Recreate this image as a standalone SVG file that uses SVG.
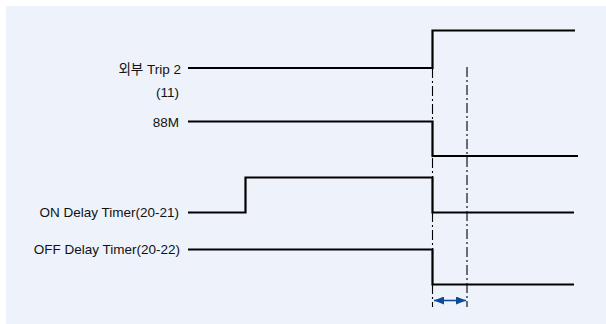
<svg xmlns="http://www.w3.org/2000/svg" width="606" height="324" viewBox="0 0 606 324">
<defs>
<style>
.lbl{font-family:"Liberation Sans","Noto Sans CJK KR",Arial,sans-serif;font-size:13.5px;fill:#111;text-anchor:end}
.sig{fill:none;stroke:#000;stroke-width:2.2;stroke-linejoin:miter;stroke-linecap:butt}
.dd{fill:none;stroke:#000;stroke-width:1.1;stroke-dasharray:10 3 2 3}
.dim{fill:none;stroke:#0D4A94;stroke-width:1.6}
</style>
<marker id="ah" viewBox="0 0 10 8" refX="10" refY="4" markerWidth="10" markerHeight="8" markerUnits="userSpaceOnUse" orient="auto-start-reverse">
<path d="M0,0 L10,4 L0,8 Z" fill="#0D4A94"/>
</marker>
</defs>
<rect x="6" y="6" width="600" height="318" fill="#EEF3FB"/>
<g id="connectors">
<line class="dd" x1="432.5" y1="68" x2="432.5" y2="307"/>
<line class="dd" x1="467" y1="67" x2="467" y2="307"/>
<line class="dim" x1="434" y1="300.5" x2="466" y2="300.5" marker-start="url(#ah)" marker-end="url(#ah)"/>
</g>
<g id="trip2">
<text class="lbl" x="181" y="73.5">외부 Trip 2</text>
<text class="lbl" x="179" y="96.5">(11)</text>
<polyline class="sig" points="188,68 432.5,68 432.5,30.5 575,30.5"/>
</g>
<g id="m88">
<text class="lbl" x="179" y="126.5">88M</text>
<polyline class="sig" points="188,121.5 432.5,121.5 432.5,156 578,156"/>
</g>
<g id="onDelay">
<text class="lbl" x="179" y="217">ON Delay Timer(20-21)</text>
<polyline class="sig" points="188,212.5 245.5,212.5 245.5,177.5 432.5,177.5 432.5,212.5 574,212.5"/>
</g>
<g id="offDelay">
<text class="lbl" x="180" y="254">OFF Delay Timer(20-22)</text>
<polyline class="sig" points="188,249.5 432.5,249.5 432.5,284.5 574,284.5"/>
</g>
</svg>
